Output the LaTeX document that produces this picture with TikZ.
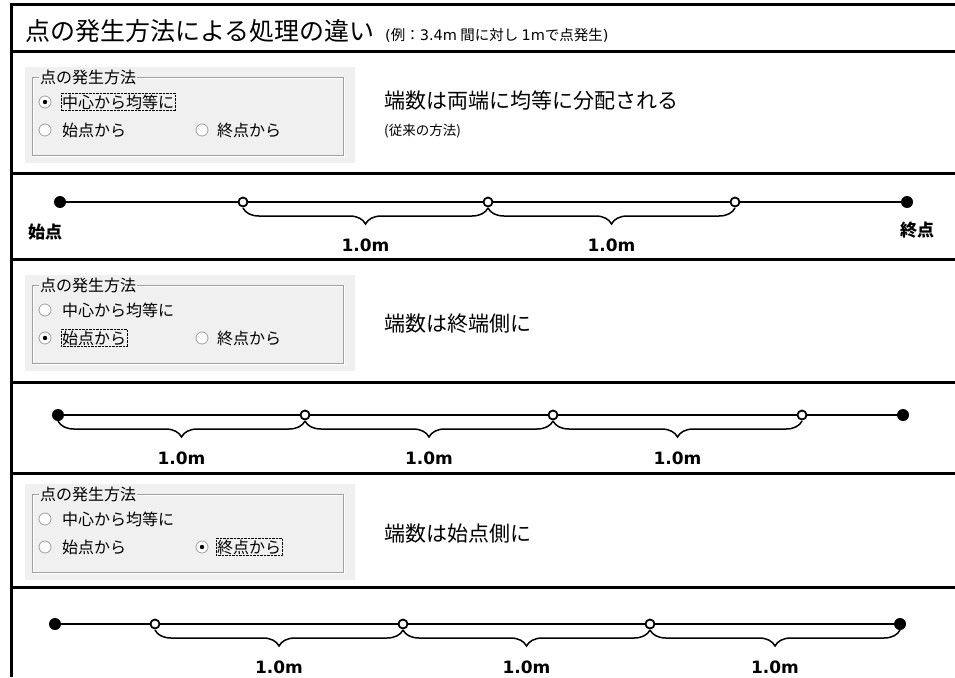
\documentclass[tikz,border=0pt]{standalone}
\usepackage{fontspec}
\setmainfont{Noto Sans CJK JP}
\newfontfamily\numfont{DejaVu Sans}
\usetikzlibrary{decorations.pathreplacing}
\definecolor{panelgray}{HTML}{F0F0F0}
\definecolor{framegray}{HTML}{A0A0A0}
\newcommand{\fs}[1]{\fontsize{#1}{#1}\selectfont}
\begin{document}
\begin{tikzpicture}[x=1pt,y=-1pt,
  rule/.style={line width=3pt},
  track/.style={line width=2pt},
  endpt/.style={circle,fill=black,inner sep=0pt,minimum size=12pt},
  midpt/.style={circle,draw=black,fill=white,line width=1.8pt,inner sep=0pt,minimum size=9pt},
  span/.style={decorate,decoration={brace,mirror,amplitude=16pt},line width=1.5pt},
  spanlabel/.style={font=\numfont\bfseries\fs{17},yshift=-37pt},
  radio/.style={circle,draw=framegray,fill=white,line width=0.8pt,inner sep=0pt,minimum size=12pt},
  optlabel/.style={anchor=west,font=\fs{16},inner sep=1pt}]
\useasboundingbox (0,0) rectangle (955,677);

% frame
\draw[rule] (955,5) -- (11,5) -- (11,677);
\foreach \y in {52,173,259,382,473,587}
  \draw[rule] (11,\y) -- (955,\y);

\node[anchor=west,font=\fs{25},inner sep=0pt] (title) at (25,31) {点の発生方法による処理の違い};
\node[anchor=west,font=\fs{14.5},inner sep=0pt] (note) at (385,35)
  {{\numfont (}例：{\numfont 3.4m} 間に対し {\numfont 1m}で点発生{\numfont )}};

% option panels
\foreach \p/\T/\sel in {1/77/1, 2/285/2, 3/494/3} {
  \fill[panelgray] (25,\T-10) rectangle (355,\T+86);
  \draw[white] (33,\T+1) rectangle (344,\T+79);
  \draw[framegray] (32,\T) rectangle (343,\T+78);
  \node[optlabel,fill=panelgray] (G\p) at (39,\T) {点の発生方法};
  \node[radio] (R\p1) at (45,\T+25) {};
  \node[radio] (R\p2) at (45,\T+53) {};
  \node[radio] (R\p3) at (202,\T+53) {};
  \node[optlabel] (O\p1) at (61,\T+25) {中心から均等に};
  \node[optlabel] (O\p2) at (61,\T+53) {始点から};
  \node[optlabel] (O\p3) at (216,\T+53) {終点から};
  \fill (R\p\sel) circle (2.2pt);
  \draw[densely dotted] (O\p\sel.south west) rectangle (O\p\sel.north east);
}

\node[anchor=west,font=\fs{21},inner sep=0pt] (D1) at (384,101) {端数は両端に均等に分配される};
\node[anchor=west,font=\fs{13.5},inner sep=0pt] (D1b) at (384,131) {(従来の方法)};
\node[anchor=west,font=\fs{21},inner sep=0pt] (D2) at (384,324) {端数は終端側に};
\node[anchor=west,font=\fs{21},inner sep=0pt] (D3) at (384,534) {端数は始点側に};

% point tracks
\foreach \t/\Y/\xa/\xb/\xc/\xd/\xe in {A/202/60/243/488/735/907, B/415/58/305/553/802/903, C/624/55/155/403/650/900} {
  \node[endpt] (\t0) at (\xa,\Y) {};
  \node[midpt] (\t1) at (\xb,\Y) {};
  \node[midpt] (\t2) at (\xc,\Y) {};
  \node[midpt] (\t3) at (\xd,\Y) {};
  \node[endpt] (\t4) at (\xe,\Y) {};
  \draw[track] (\t0) -- (\t1) -- (\t2) -- (\t3) -- (\t4);
}

\node[font=\bfseries\fs{17}] (start) at (45,232) {始点};
\node[font=\bfseries\fs{17}] (end) at (917,230) {終点};

\foreach \a/\b in {A1/A2, A2/A3, B0/B1, B1/B2, B2/B3, C1/C2, C2/C3, C3/C4}
  \draw[span] ([yshift=-6pt]\a.center) -- node[spanlabel] (L\a) {1.0m} ([yshift=-6pt]\b.center);
\end{tikzpicture}
\end{document}
